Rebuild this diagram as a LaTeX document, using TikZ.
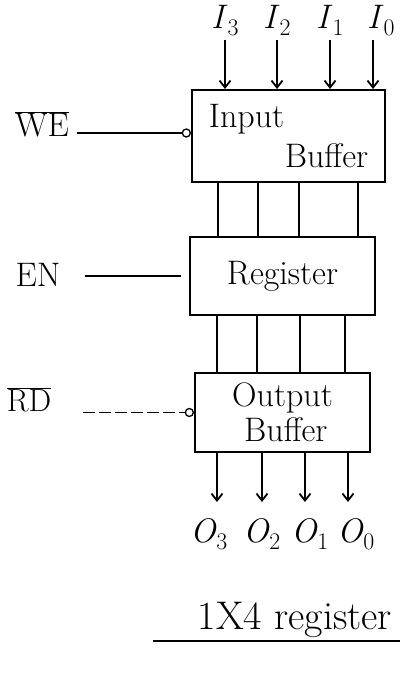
\documentclass[tikz,border=0pt]{standalone}
\usetikzlibrary{arrows.meta, positioning}
\newcommand{\pin}[2]{\textit{#1}\textsubscript{#2}}
\newcommand{\barsig}[1]{$\overline{\hbox{#1}}$}

\begin{document}
\begin{tikzpicture}[
    x=1pt, y=-1pt,
    >={Straight Barb[length=7pt, width=11pt]},
    blk/.style ={draw, line width=2pt, inner sep=0pt, align=left,
                 font=\fontsize{34}{40}\selectfont},
    lbl/.style ={inner sep=0pt, font=\fontsize{34}{40}\selectfont},
    inv/.style ={draw, circle, line width=1.3pt, inner sep=0pt,
                 minimum size=8pt, fill=white},
    sig/.style ={line width=1.8pt},
    bus/.style ={line width=1.8pt},
]
\useasboundingbox (0,0) rectangle (413,675);

% the three blocks
\node[blk, minimum width=193pt, minimum height=92pt] (inbuf)  at (288.5,136)
     {Input\\\hspace*{76pt}Buffer};
\node[blk, minimum width=185pt, minimum height=78pt] (reg)    at (282.5,276)
     {Register};
\node[blk, minimum width=175pt, minimum height=79pt,
      font=\fontsize{34}{35}\selectfont]              (outbuf) at (282.5,412.5)
     {Output\\\hspace*{12pt}Buffer};

% data inputs
\coordinate (a3) at (225,40);
\coordinate (a2) at (277,40);
\coordinate (a1) at (330,40);
\coordinate (a0) at (373,40);
\node[lbl, above=4pt of a3] (i3) {\pin{I}{3}};
\node[lbl, above=4pt of a2] (i2) {\pin{I}{2}};
\node[lbl, above=4pt of a1] (i1) {\pin{I}{1}};
\node[lbl, above=4pt of a0, xshift=8pt] (i0) {\pin{I}{0}};
\draw[sig, ->] (a3) -- (inbuf.north -| a3);
\draw[sig, ->] (a2) -- (inbuf.north -| a2);
\draw[sig, ->] (a1) -- (inbuf.north -| a1);
\draw[sig, ->] (a0) -- (inbuf.north -| a0);

% buffer -> register -> buffer
\coordinate (u3) at (218,210);
\coordinate (u2) at (258,210);
\coordinate (u1) at (299,210);
\coordinate (u0) at (358,210);
\draw[bus] (inbuf.south -| u3) -- (reg.north -| u3);
\draw[bus] (inbuf.south -| u2) -- (reg.north -| u2);
\draw[bus] (inbuf.south -| u1) -- (reg.north -| u1);
\draw[bus] (inbuf.south -| u0) -- (reg.north -| u0);
\coordinate (v3) at (217,345);
\coordinate (v2) at (257,345);
\coordinate (v1) at (300,345);
\coordinate (v0) at (345,345);
\draw[bus] (reg.south -| v3) -- (outbuf.north -| v3);
\draw[bus] (reg.south -| v2) -- (outbuf.north -| v2);
\draw[bus] (reg.south -| v1) -- (outbuf.north -| v1);
\draw[bus] (reg.south -| v0) -- (outbuf.north -| v0);

% data outputs
\coordinate (q3) at (217,502);
\coordinate (q2) at (262,502);
\coordinate (q1) at (305,502);
\coordinate (q0) at (348,502);
\draw[sig, ->] (outbuf.south -| q3) -- (q3);
\draw[sig, ->] (outbuf.south -| q2) -- (q2);
\draw[sig, ->] (outbuf.south -| q1) -- (q1);
\draw[sig, ->] (outbuf.south -| q0) -- (q0);
\node[lbl, below=16pt of q3, xshift=-8pt] (o3) {\pin{O}{3}};
\node[lbl, below=16pt of q2]              (o2) {\pin{O}{2}};
\node[lbl, below=16pt of q1, xshift=5pt]  (o1) {\pin{O}{1}};
\node[lbl, below=16pt of q0, xshift=8pt]  (o0) {\pin{O}{0}};

% control lines
\node[lbl] (we) at (42,124) {\barsig{WE}};
\node[inv, left=0pt of inbuf.west, yshift=3pt] (webub) {};
\draw[sig, shorten <=8pt] (we.east |- webub) -- (webub.west);

\node[lbl] (en) at (38,275) {EN};
\draw[sig, shorten <=24pt, shorten >=8pt] (en.east |- reg.west) -- (reg.west);

\node[lbl, font=\fontsize{32}{36}\selectfont] (rd) at (29,400) {\barsig{RD}};
\node[inv, left=0pt of outbuf.west] (rdbub) {};
\draw[sig, dash pattern=on 12pt off 4pt, shorten <=32pt] (rd.east |- rdbub) -- (rdbub.west);

% caption
\node[lbl, font=\fontsize{40}{44}\selectfont] (cap) at (295,620) {1X4 register};
\draw[sig] ([xshift=-45pt, yshift=-3pt]cap.south west)
        -- ([xshift=8pt, yshift=-3pt]cap.south east);
\end{tikzpicture}
\end{document}
